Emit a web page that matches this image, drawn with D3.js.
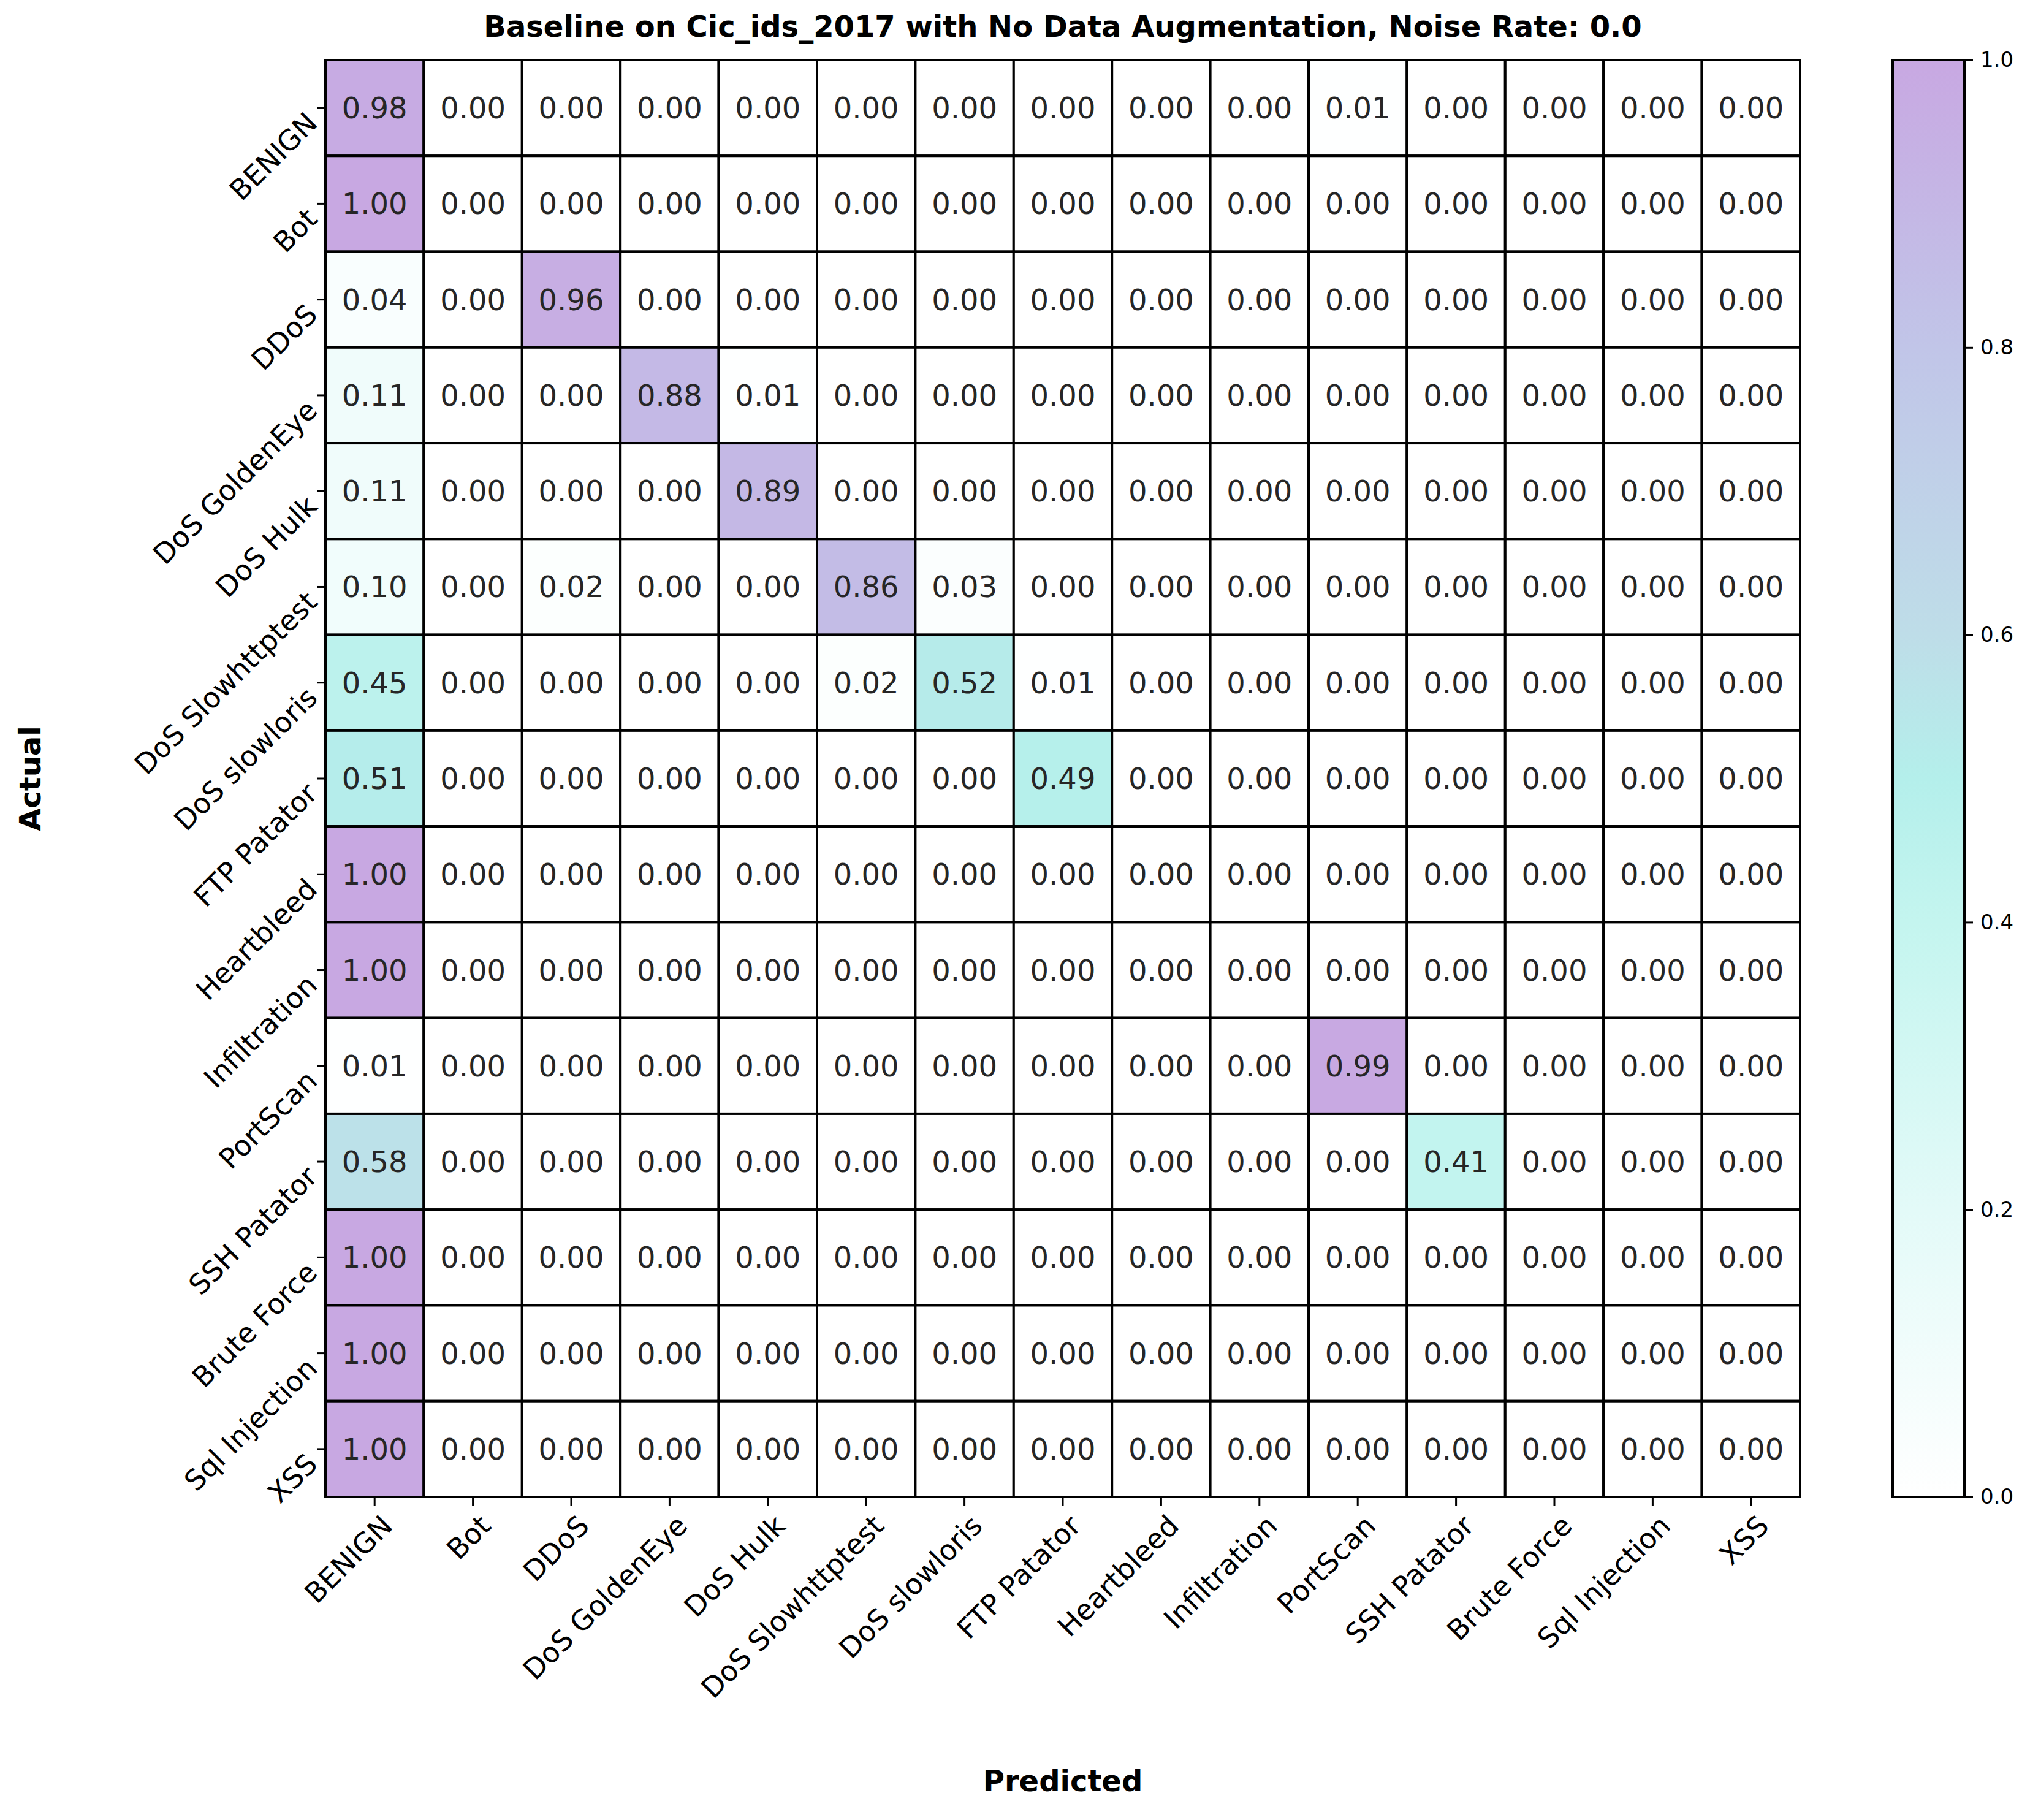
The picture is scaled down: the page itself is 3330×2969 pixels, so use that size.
<!DOCTYPE html>
<html><head><meta charset="utf-8">
<script src="https://cdn.jsdelivr.net/npm/d3@7"></script>
<style>body{margin:0;background:#fff;} text{font-family:"DejaVu Sans",sans-serif;}</style>
</head><body>
<svg id="c" width="3330" height="2969"></svg>
<script>
const labels = ["BENIGN","Bot","DDoS","DoS GoldenEye","DoS Hulk","DoS Slowhttptest","DoS slowloris","FTP Patator","Heartbleed","Infiltration","PortScan","SSH Patator","Brute Force","Sql Injection","XSS"];
const matrix = [
  [0.98,0,0,0,0,0,0,0,0,0,0.01,0,0,0,0],
  [1.00,0,0,0,0,0,0,0,0,0,0,0,0,0,0],
  [0.04,0,0.96,0,0,0,0,0,0,0,0,0,0,0,0],
  [0.11,0,0,0.88,0.01,0,0,0,0,0,0,0,0,0,0],
  [0.11,0,0,0,0.89,0,0,0,0,0,0,0,0,0,0],
  [0.10,0,0.02,0,0,0.86,0.03,0,0,0,0,0,0,0,0],
  [0.45,0,0,0,0,0.02,0.52,0.01,0,0,0,0,0,0,0],
  [0.51,0,0,0,0,0,0,0.49,0,0,0,0,0,0,0],
  [1.00,0,0,0,0,0,0,0,0,0,0,0,0,0,0],
  [1.00,0,0,0,0,0,0,0,0,0,0,0,0,0,0],
  [0.01,0,0,0,0,0,0,0,0,0,0.99,0,0,0,0],
  [0.58,0,0,0,0,0,0,0,0,0,0,0.41,0,0,0],
  [1.00,0,0,0,0,0,0,0,0,0,0,0,0,0,0],
  [1.00,0,0,0,0,0,0,0,0,0,0,0,0,0,0],
  [1.00,0,0,0,0,0,0,0,0,0,0,0,0,0,0]
];
const cbTicks = [0,0.2,0.4,0.6,0.8,1.0];
const colorStops = [0,0.2,0.4,0.5,0.6,0.8,1.0];
const colorVals = ["#ffffff","#e3faf8","#c4f5ef","#b4efeb","#bedde8","#c1c5e8","#c8a8e2"];

const svg = d3.select("#c");
const L = 531, R = 2937, T = 98, B = 2442;
const x = d3.scaleBand().domain(labels).range([L, R]);
const y = d3.scaleBand().domain(labels).range([T, B]);
const color = d3.scaleLinear().domain(colorStops).range(colorVals);

const cells = [];
matrix.forEach((row, i) => row.forEach((v, j) => cells.push({r: labels[i], c: labels[j], v: v})));

svg.append("g").selectAll("rect").data(cells).enter().append("rect")
  .attr("x", d => x(d.c)).attr("y", d => y(d.r))
  .attr("width", x.bandwidth()).attr("height", y.bandwidth())
  .attr("fill", d => color(d.v)).attr("stroke", "#000").attr("stroke-width", 4);

svg.append("g").selectAll("text").data(cells).enter().append("text")
  .attr("x", d => x(d.c) + x.bandwidth()/2).attr("y", d => y(d.r) + y.bandwidth()/2)
  .attr("text-anchor", "middle").attr("dominant-baseline", "central")
  .attr("font-size", 48).attr("fill", "#262626")
  .text(d => d.v.toFixed(2));

// axes
const xAxis = svg.append("g").attr("transform", `translate(0,${B})`)
  .call(d3.axisBottom(x).tickSize(14).tickPadding(8));
xAxis.select(".domain").remove();
xAxis.selectAll("line").attr("stroke-width", 3);
xAxis.selectAll("text").attr("font-size", 46).attr("fill", "#000")
  .attr("text-anchor", "end").attr("dy", "0.5em")
  .attr("transform", "translate(0,18) rotate(-45)");

const yAxis = svg.append("g").attr("transform", `translate(${L},0)`)
  .call(d3.axisLeft(y).tickSize(14).tickPadding(8));
yAxis.select(".domain").remove();
yAxis.selectAll("line").attr("stroke-width", 3);
yAxis.selectAll("text").attr("font-size", 46).attr("fill", "#000")
  .attr("text-anchor", "end").attr("dy", "0.35em")
  .attr("transform", "translate(0,16) rotate(-45,-22,0)");

svg.append("text").attr("x", (L+R)/2).attr("y", 60).attr("text-anchor", "middle")
  .attr("font-size", 48).attr("font-weight", "bold")
  .text("Baseline on Cic_ids_2017 with No Data Augmentation, Noise Rate: 0.0");
svg.append("text").attr("x", (L+R)/2).attr("y", 2922).attr("text-anchor", "middle")
  .attr("font-size", 48).attr("font-weight", "bold").text("Predicted");
svg.append("text").attr("transform", `translate(66,${(T+B)/2}) rotate(-90)`).attr("text-anchor", "middle")
  .attr("font-size", 48).attr("font-weight", "bold").text("Actual");

// colorbar
const cbX = 3088, cbW = 117;
const cy = d3.scaleLinear().domain([0,1]).range([B, T]);
const grad = svg.append("defs").append("linearGradient").attr("id", "g")
  .attr("x1", 0).attr("y1", 1).attr("x2", 0).attr("y2", 0);
colorStops.forEach((s, i) => grad.append("stop").attr("offset", s).attr("stop-color", colorVals[i]));
svg.append("rect").attr("x", cbX).attr("y", T).attr("width", cbW).attr("height", B - T)
  .attr("fill", "url(#g)").attr("stroke", "#000").attr("stroke-width", 4);
const cAxis = svg.append("g").attr("transform", `translate(${cbX+cbW},0)`)
  .call(d3.axisRight(cy).tickValues(cbTicks).tickFormat(d3.format(".1f")).tickSize(14).tickPadding(12));
cAxis.select(".domain").remove();
cAxis.selectAll("line").attr("stroke-width", 3);
cAxis.selectAll("text").attr("font-size", 34).attr("fill", "#000");
</script>
</body></html>
